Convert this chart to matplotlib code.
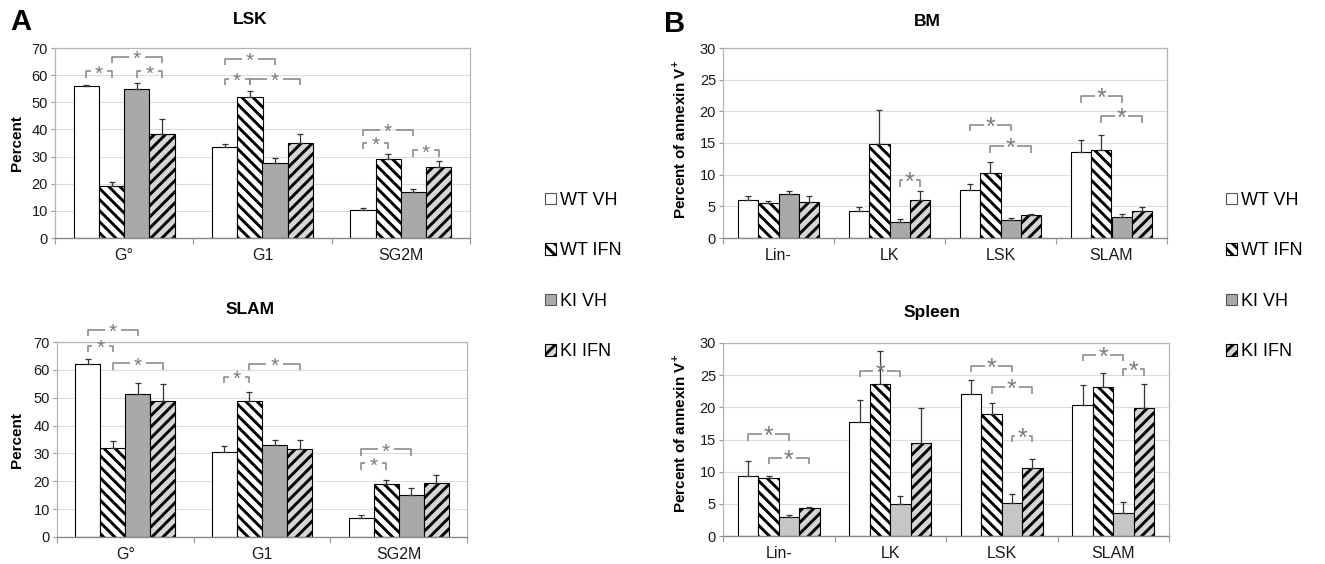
import matplotlib
matplotlib.use('Agg')
import matplotlib.pyplot as plt
import numpy as np
from matplotlib.patches import Patch

plt.rcParams['font.family'] = ['Liberation Sans', 'DejaVu Sans']
plt.rcParams['hatch.linewidth'] = 2.1
plt.rcParams['mathtext.fontset'] = 'custom'
plt.rcParams['mathtext.rm'] = 'Liberation Sans'
plt.rcParams['mathtext.bf'] = 'Liberation Sans:bold'

# ---------------- data ----------------
series_labels = ['WT VH', 'WT IFN', 'KI VH', 'KI IFN']

cycle_categories = ['G°', 'G1', 'SG2M']
lsk_wt_vh = [56.0, 33.5, 10.5]
lsk_wt_ifn = [19.0, 52.0, 29.0]
lsk_ki_vh = [55.0, 27.5, 17.0]
lsk_ki_ifn = [38.5, 35.0, 26.0]
lsk_err_wt_vh = [0.5, 1.0, 0.5]
lsk_err_wt_ifn = [1.5, 2.0, 2.0]
lsk_err_ki_vh = [2.0, 1.8, 1.0]
lsk_err_ki_ifn = [5.5, 3.3, 2.2]
# significance brackets: (category index, bar i, bar j, height)
lsk_brackets = [(0, 0, 1, 61.4), (0, 1, 3, 66.7), (0, 2, 3, 61.4),
                (1, 0, 2, 66.0), (1, 0, 1, 58.7), (1, 1, 3, 58.7),
                (2, 0, 2, 39.8), (2, 0, 1, 35.1), (2, 2, 3, 32.4)]

slam_wt_vh = [62.0, 30.5, 7.0]
slam_wt_ifn = [32.0, 49.0, 19.0]
slam_ki_vh = [51.5, 33.0, 15.0]
slam_ki_ifn = [49.0, 31.5, 19.5]
slam_err_wt_vh = [2.0, 2.0, 1.0]
slam_err_wt_ifn = [2.5, 3.0, 1.5]
slam_err_ki_vh = [3.8, 2.0, 2.5]
slam_err_ki_ifn = [6.0, 3.5, 2.7]
slam_brackets = [(0, 0, 2, 74.4), (0, 0, 1, 68.7), (0, 1, 3, 62.4),
                 (1, 0, 1, 57.6), (1, 1, 3, 62.2),
                 (2, 0, 2, 31.5), (2, 0, 1, 26.4)]

pop_categories = ['Lin-', 'LK', 'LSK', 'SLAM']
bm_wt_vh = [6.0, 4.3, 7.6, 13.6]
bm_wt_ifn = [5.6, 14.8, 10.2, 13.9]
bm_ki_vh = [7.0, 2.5, 2.8, 3.3]
bm_ki_ifn = [5.7, 6.0, 3.6, 4.3]
bm_err_wt_vh = [0.6, 0.6, 1.0, 1.9]
bm_err_wt_ifn = [0.3, 5.4, 1.8, 2.3]
bm_err_ki_vh = [0.5, 0.5, 0.3, 0.5]
bm_err_ki_ifn = [1.0, 1.5, 0.2, 0.6]
bm_brackets = [(1, 2, 3, 9.1), (2, 0, 2, 17.9), (2, 1, 3, 14.5),
               (3, 0, 2, 22.4), (3, 1, 3, 19.2)]

spleen_wt_vh = [9.3, 17.7, 22.0, 20.3]
spleen_wt_ifn = [9.0, 23.6, 18.9, 23.2]
spleen_ki_vh = [2.9, 5.0, 5.1, 3.6]
spleen_ki_ifn = [4.4, 14.5, 10.5, 19.9]
spleen_err_wt_vh = [2.4, 3.4, 2.2, 3.1]
spleen_err_wt_ifn = [0.3, 5.2, 1.8, 2.2]
spleen_err_ki_vh = [0.4, 1.2, 1.5, 1.7]
spleen_err_ki_ifn = [0.1, 5.4, 1.5, 3.8]
spleen_brackets = [(0, 0, 2, 15.8), (0, 1, 3, 12.2), (1, 0, 2, 25.7),
                   (2, 0, 2, 26.5), (2, 1, 3, 23.1), (2, 2, 3, 15.6),
                   (3, 0, 2, 28.2), (3, 2, 3, 25.9)]

# ---------------- drawing ----------------
W, H = 1325, 564
fig = plt.figure(figsize=(W / 100, H / 100), dpi=100)


def px_axes(left, top, right, bottom):
    return fig.add_axes([left / W, 1 - bottom / H, (right - left) / W, (bottom - top) / H])


BAR_W = 0.183


def draw_panel(ax, cats, vals, errs, brackets, ymax, ystep, kivh_color, star_size):
    n = len(cats)
    x = np.arange(n)
    styles = [dict(facecolor='white', hatch=None),
              dict(facecolor='white', hatch='\\\\\\'),
              dict(facecolor=kivh_color, hatch=None),
              dict(facecolor='#d6d6d6', hatch='///')]
    for k in range(4):
        xs = x + (k - 1.5) * BAR_W
        ax.bar(xs, vals[k], BAR_W, edgecolor='black', linewidth=0.8, zorder=2, **styles[k])
        ax.errorbar(xs, vals[k], yerr=[np.zeros(n), errs[k]], fmt='none', ecolor='#333333',
                    elinewidth=0.9, capsize=2.5, capthick=0.9, zorder=3)
    d = 0.034 * ymax
    g = 0.06
    for c, i, j, y in brackets:
        x1 = c + (i - 1.5) * BAR_W
        x2 = c + (j - 1.5) * BAR_W
        xm = (x1 + x2) / 2
        kw = dict(color='#8c8c8c', lw=1.2, clip_on=False, zorder=4, solid_capstyle='butt')
        ax.plot([x1, x1, xm - g], [y - d, y, y], **kw)
        ax.plot([xm + g, x2, x2], [y, y, y - d], **kw)
        ax.text(xm, y - 0.015 * ymax, '*', ha='center', va='center', fontsize=star_size,
                color='#7a7a7a', zorder=5, clip_on=False)
    ax.set_xlim(-0.5, n - 0.5)
    ax.set_ylim(0, ymax)
    ax.set_yticks(np.arange(0, ymax + 0.1, ystep))
    ax.set_xticks(x)
    ax.set_xticklabels(cats, fontsize=11.5, color='#1a1a1a')
    ax.set_xticks(np.arange(-0.5, n, 1.0), minor=True)
    ax.tick_params(axis='x', which='major', length=0, pad=7)
    ax.tick_params(axis='x', which='minor', length=4, color='#9a9a9a', width=0.8)
    ax.tick_params(axis='y', labelsize=10.5, colors='#1a1a1a', length=3, width=0.8, pad=2)
    ax.tick_params(axis='y', color='#9a9a9a')
    ax.yaxis.grid(True, color='#dcdcdc', lw=0.8)
    ax.set_axisbelow(True)
    for s in ['top', 'right', 'left']:
        ax.spines[s].set_color('#b5b5b5')
        ax.spines[s].set_linewidth(0.9)
    ax.spines['bottom'].set_color('#8a8a8a')
    ax.spines['bottom'].set_linewidth(1.0)


ax1 = px_axes(55, 48, 470, 238)
draw_panel(ax1, cycle_categories,
           [lsk_wt_vh, lsk_wt_ifn, lsk_ki_vh, lsk_ki_ifn],
           [lsk_err_wt_vh, lsk_err_wt_ifn, lsk_err_ki_vh, lsk_err_ki_ifn],
           lsk_brackets, 70, 10, '#a9a9a9', 15)

ax2 = px_axes(57, 342, 467, 537)
draw_panel(ax2, cycle_categories,
           [slam_wt_vh, slam_wt_ifn, slam_ki_vh, slam_ki_ifn],
           [slam_err_wt_vh, slam_err_wt_ifn, slam_err_ki_vh, slam_err_ki_ifn],
           slam_brackets, 70, 10, '#a9a9a9', 15)

ax3 = px_axes(723, 48, 1167, 238)
draw_panel(ax3, pop_categories,
           [bm_wt_vh, bm_wt_ifn, bm_ki_vh, bm_ki_ifn],
           [bm_err_wt_vh, bm_err_wt_ifn, bm_err_ki_vh, bm_err_ki_ifn],
           bm_brackets, 30, 5, '#a9a9a9', 18)

ax4 = px_axes(723, 343, 1169, 536)
draw_panel(ax4, pop_categories,
           [spleen_wt_vh, spleen_wt_ifn, spleen_ki_vh, spleen_ki_ifn],
           [spleen_err_wt_vh, spleen_err_wt_ifn, spleen_err_ki_vh, spleen_err_ki_ifn],
           spleen_brackets, 30, 5, '#c6c6c6', 18)


def ftext(xp, yp, s, **kw):
    fig.text(xp / W, 1 - yp / H, s, **kw)


ftext(10, 22, 'A', fontsize=21, fontweight='bold', va='center', ha='left')
ftext(664, 24, 'B', fontsize=21, fontweight='bold', va='center', ha='left')
ftext(250, 20, 'LSK', fontsize=12.5, fontweight='bold', ha='center', va='center')
ftext(250, 310, 'SLAM', fontsize=12.5, fontweight='bold', ha='center', va='center')
ftext(927, 22, 'BM', fontsize=12.5, fontweight='bold', ha='center', va='center')
ftext(932, 312, 'Spleen', fontsize=12.5, fontweight='bold', ha='center', va='center')

ftext(17, 143, 'Percent', fontsize=11, fontweight='bold', rotation=90, ha='center', va='center')
ftext(17, 440, 'Percent', fontsize=11, fontweight='bold', rotation=90, ha='center', va='center')
ylab_b = r'Percent of annexin V$^{\mathbf{+}}$'
ftext(679, 140, ylab_b, fontsize=11, fontweight='bold', rotation=90, ha='center', va='center')
ftext(679, 434, ylab_b, fontsize=11, fontweight='bold', rotation=90, ha='center', va='center')

leg_handles = [Patch(facecolor='white', edgecolor='#555555', lw=0.8),
               Patch(facecolor='white', edgecolor='black', hatch='\\\\\\', lw=0.8),
               Patch(facecolor='#a9a9a9', edgecolor='#555555', lw=0.8),
               Patch(facecolor='#d6d6d6', edgecolor='black', hatch='///', lw=0.8)]
for xl in (545, 1226):
    fig.legend(leg_handles, series_labels, loc='upper left',
               bbox_to_anchor=(xl / W, 1 - 192 / H), frameon=False, fontsize=13,
               handlelength=0.6, handleheight=0.6, labelspacing=1.85,
               handletextpad=0.25, borderpad=0, borderaxespad=0)

fig.savefig('out.png', dpi=100)
